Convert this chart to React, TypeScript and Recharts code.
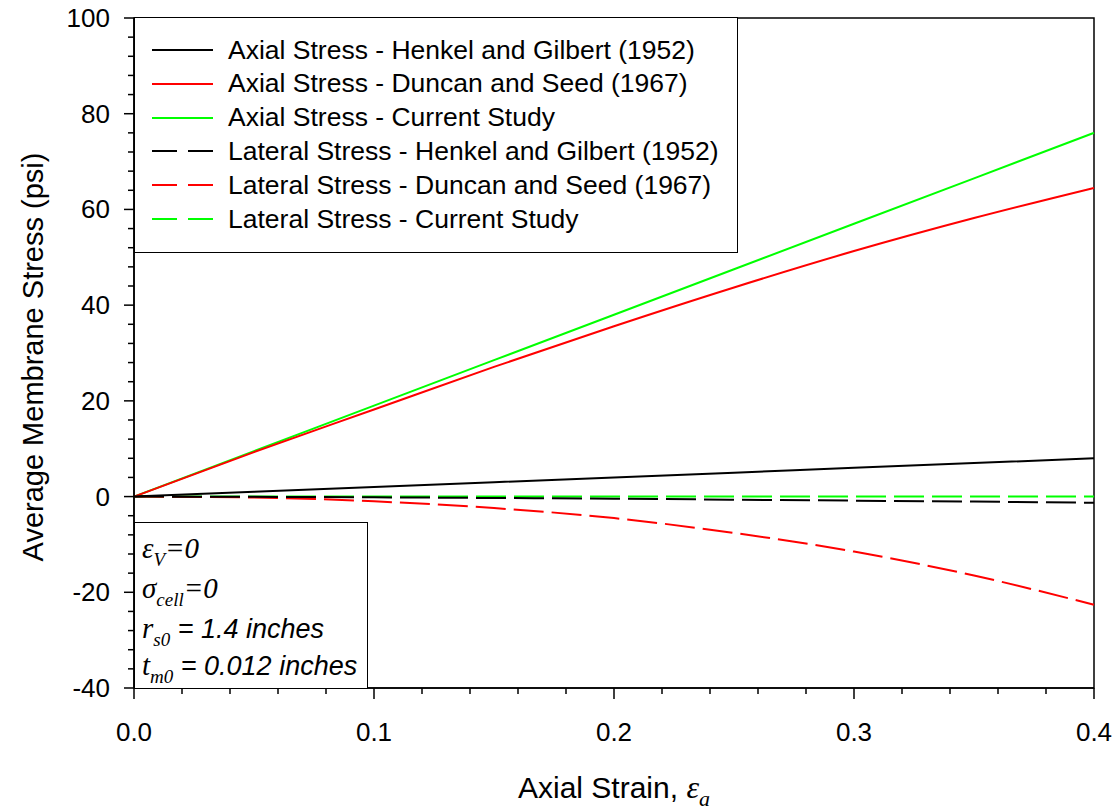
import React from 'react';
import { LineChart, Line, XAxis, YAxis, ReferenceArea } from 'recharts';

// axial strain samples and membrane stresses (psi)
const strain = [0, 0.05, 0.1, 0.15, 0.2, 0.25, 0.3, 0.35, 0.4];
const axialHenkel = [0, 1, 2, 3, 4, 5, 6, 7, 8];
const axialDuncan = [0, 9.3, 18.2, 27.1, 35.6, 43.7, 51.3, 58.2, 64.5];
const axialCurrent = [0, 9.5, 19, 28.5, 38, 47.5, 57, 66.5, 76];
const lateralHenkel = [0, -0.05, -0.15, -0.3, -0.45, -0.65, -0.85, -1.05, -1.3];
const lateralDuncan = [0, -0.2, -1.0, -2.4, -4.5, -7.6, -11.5, -16.5, -22.6];
const lateralCurrent = [0, 0, 0, 0, 0, 0, 0, 0, 0];

const xTicks = [0, 0.02, 0.04, 0.06, 0.08, 0.1, 0.12, 0.14, 0.16, 0.18, 0.2, 0.22, 0.24, 0.26, 0.28, 0.3, 0.32, 0.34, 0.36, 0.38, 0.4];
const yTicks = [-40, -36, -32, -28, -24, -20, -16, -12, -8, -4, 0, 4, 8, 12, 16, 20, 24, 28, 32, 36, 40, 44, 48, 52, 56, 60, 64, 68, 72, 76, 80, 84, 88, 92, 96, 100];

const series = [
  { key: 'axialHenkel', name: 'Axial Stress - Henkel and Gilbert (1952)', color: '#000000', dashed: false },
  { key: 'axialDuncan', name: 'Axial Stress - Duncan and Seed (1967)', color: '#ff0000', dashed: false },
  { key: 'axialCurrent', name: 'Axial Stress - Current Study', color: '#00ff00', dashed: false },
  { key: 'lateralHenkel', name: 'Lateral Stress - Henkel and Gilbert (1952)', color: '#000000', dashed: true },
  { key: 'lateralDuncan', name: 'Lateral Stress - Duncan and Seed (1967)', color: '#ff0000', dashed: true },
  { key: 'lateralCurrent', name: 'Lateral Stress - Current Study', color: '#00ff00', dashed: true },
];

const data = strain.map((s, i) => ({
  strain: s,
  axialHenkel: axialHenkel[i],
  axialDuncan: axialDuncan[i],
  axialCurrent: axialCurrent[i],
  lateralHenkel: lateralHenkel[i],
  lateralDuncan: lateralDuncan[i],
  lateralCurrent: lateralCurrent[i],
}));

const SANS = '"Liberation Sans", Arial, sans-serif';
const SERIF = '"Liberation Serif", "Times New Roman", serif';

const XTick = (props: any) => {
  const { x, y, payload } = props;
  const v = payload.value;
  const major = Math.abs(v * 10 - Math.round(v * 10)) < 1e-6;
  return (
    <g>
      <line x1={x} x2={x} y1={y} y2={y + (major ? 11 : 6)} stroke="#000" strokeWidth={1.5} />
      {major && (
        <text x={x} y={y + 44} textAnchor="middle" dominantBaseline="central" fontSize={26} fontFamily={SANS} fill="#000">
          {v.toFixed(1)}
        </text>
      )}
    </g>
  );
};

const YTick = (props: any) => {
  const { x, y, payload } = props;
  const v = payload.value;
  const major = v % 20 === 0;
  return (
    <g>
      <line x1={x} x2={x - (major ? 10 : 6)} y1={y} y2={y} stroke="#000" strokeWidth={1.5} />
      {major && (
        <text x={x - 24} y={y} textAnchor="end" dominantBaseline="central" fontSize={26} fontFamily={SANS} fill="#000">
          {v}
        </text>
      )}
    </g>
  );
};

const XTitle = (props: any) => {
  const vb = props.viewBox || { x: 134, y: 688, width: 960, height: 123 };
  return (
    <text x={vb.x + vb.width / 2} y={vb.y + 110} textAnchor="middle" fontSize={30} fontFamily={SANS} fill="#000">
      <tspan>Axial Strain,{'\u00a0'}</tspan>
      <tspan fontFamily={SERIF} fontStyle="italic" fontSize={32}>ε</tspan>
      <tspan fontFamily={SERIF} fontStyle="italic" fontSize={22} dy={8}>a</tspan>
    </text>
  );
};

const YTitle = (props: any) => {
  const vb = props.viewBox || { x: 0, y: 18, width: 134, height: 670 };
  const cx = 33;
  const cy = vb.y + vb.height / 2 + 4;
  return (
    <text x={cx} y={cy} transform={`rotate(-90 ${cx} ${cy})`} textAnchor="middle" dominantBaseline="central" fontSize={29} fontFamily={SANS} fill="#000">
      Average Membrane Stress (psi)
    </text>
  );
};

const sub = { fontFamily: SERIF, fontStyle: 'italic', fontSize: 19, position: 'relative' as const, top: 8 };
const sym = { fontFamily: SERIF, fontStyle: 'italic', fontSize: 29 };
const note = { fontFamily: SANS, fontStyle: 'italic', fontSize: 27 };

export default function App() {
  return (
    <div style={{ position: 'absolute', left: 0, top: 0, width: 1118, height: 811, background: '#fff', fontFamily: SANS }}>
      <LineChart width={1118} height={811} data={data} margin={{ top: 18, right: 24, bottom: 0, left: 0 }}>
        <XAxis
          dataKey="strain"
          type="number"
          domain={[0, 0.4]}
          ticks={xTicks}
          interval={0}
          tickSize={0}
          tickMargin={0}
          tickLine={false}
          tick={<XTick />}
          height={123}
          axisLine={{ stroke: '#000', strokeWidth: 1.5 }}
          label={<XTitle />}
        />
        <YAxis
          type="number"
          domain={[-40, 100]}
          ticks={yTicks}
          interval={0}
          tickSize={0}
          tickMargin={0}
          tickLine={false}
          tick={<YTick />}
          width={134}
          axisLine={{ stroke: '#000', strokeWidth: 1.5 }}
          label={<YTitle />}
        />
        <ReferenceArea x1={0} x2={0.4} y1={-40} y2={100} fill="none" stroke="#000" strokeWidth={1.5} />
        {[...series].reverse().map((s) => (
          <Line
            key={s.key}
            dataKey={s.key}
            name={s.name}
            type="monotone"
            stroke={s.color}
            strokeWidth={2}
            strokeDasharray={s.dashed ? '30 8' : undefined}
            dot={false}
            isAnimationActive={false}
          />
        ))}
      </LineChart>

      {/* legend box */}
      <div style={{ position: 'absolute', left: 134, top: 17, width: 604, height: 236, border: '1.5px solid #000', background: '#fff', boxSizing: 'border-box' }}>
        {series.map((s, i) => (
          <div key={s.key} style={{ position: 'absolute', left: 17, top: 15 + i * 33.8, height: 34, display: 'flex', alignItems: 'center', whiteSpace: 'nowrap' }}>
            <svg width={61} height={4}>
              <line x1={0} x2={61} y1={2} y2={2} stroke={s.color} strokeWidth={2} strokeDasharray={s.dashed ? '25 11' : undefined} />
            </svg>
            <span style={{ marginLeft: 15, fontSize: 26.5, color: '#000' }}>{s.name}</span>
          </div>
        ))}
      </div>

      {/* parameters box */}
      <div style={{ position: 'absolute', left: 134, top: 522, width: 234, height: 167, border: '1.5px solid #000', background: '#fff', boxSizing: 'border-box', color: '#000' }}>
        <div style={{ position: 'absolute', left: 7, top: 9, whiteSpace: 'nowrap' }}>
          <span style={sym}>ε</span><span style={sub}>V</span><span style={sym}>=0</span>
        </div>
        <div style={{ position: 'absolute', left: 7, top: 49, whiteSpace: 'nowrap' }}>
          <span style={sym}>σ</span><span style={sub}>cell</span><span style={sym}>=0</span>
        </div>
        <div style={{ position: 'absolute', left: 7, top: 89, whiteSpace: 'nowrap' }}>
          <span style={sym}>r</span><span style={sub}>s0</span><span style={note}> = 1.4 inches</span>
        </div>
        <div style={{ position: 'absolute', left: 7, top: 126, whiteSpace: 'nowrap' }}>
          <span style={sym}>t</span><span style={sub}>m0</span><span style={note}> = 0.012 inches</span>
        </div>
      </div>
    </div>
  );
}
